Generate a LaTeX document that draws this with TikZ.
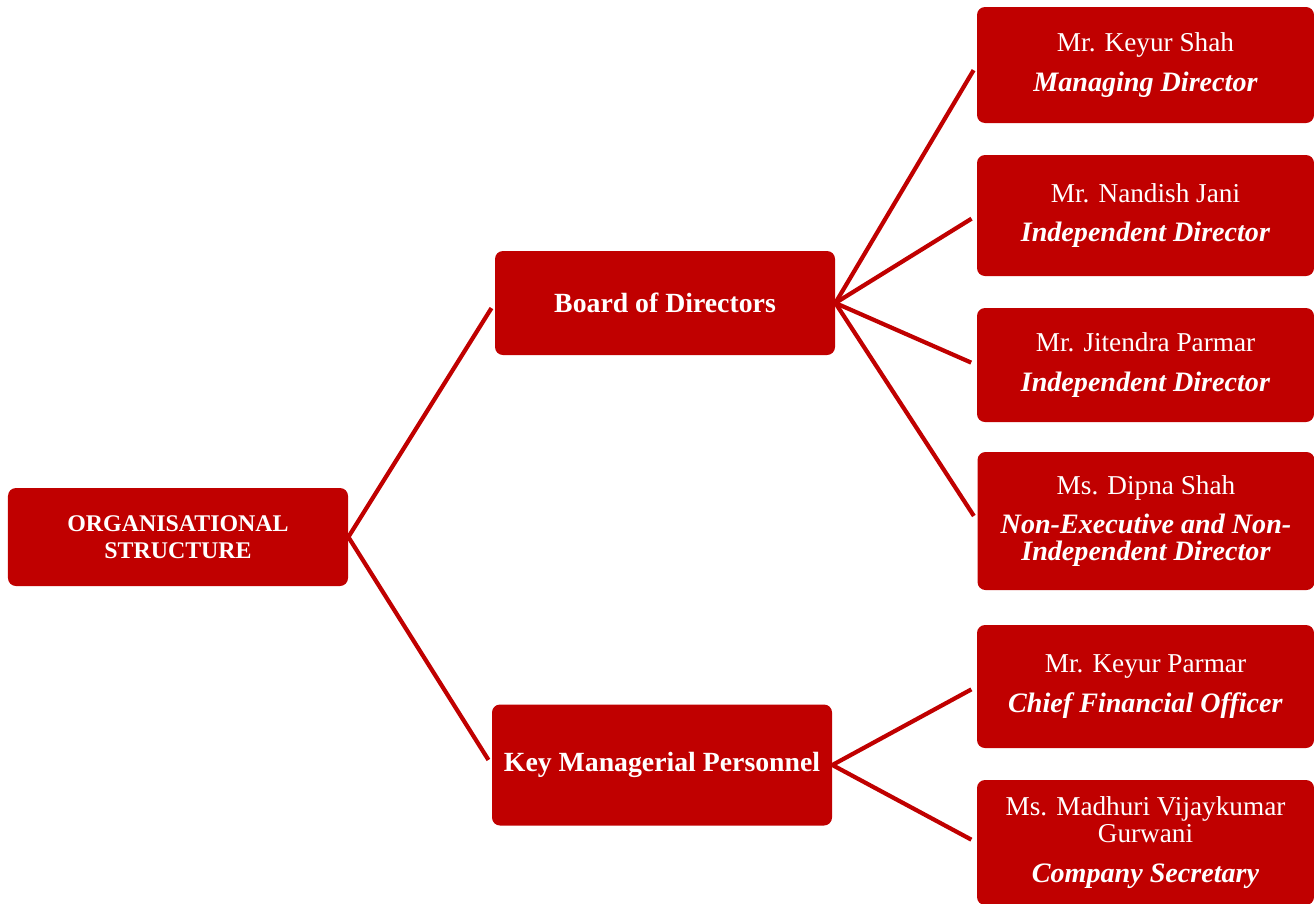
\documentclass[tikz,border=0pt]{standalone}
\usepackage{fontspec}
\setmainfont{Liberation Serif}
\usepackage{tikz}
\usetikzlibrary{positioning,shapes,arrows}

\definecolor{orgred}{RGB}{192,0,0}

\tikzset{
	orgbox/.style={fill=orgred,text=white,rounded corners=1.6mm,align=center,
		inner sep=0pt,minimum width=68mm,font=\fontsize{15.5}{15.5}\selectfont},
	personbox/.style={orgbox,minimum width=67.4mm},
	link/.style={draw=orgred,line width=2.4pt,shorten >=1.2mm}
}

\newcommand{\post}[1]{{\fontsize{16}{15.5}\selectfont\textbf{\textit{#1}}}}

\begin{document}
\begin{tikzpicture}[x=0.2mm,y=-0.2mm]
		\useasboundingbox (0,0) rectangle (1314,903);

		% Root
		\node[orgbox,minimum height=19.6mm,font=\bfseries\fontsize{13.6}{15.5}\selectfont] (org) at (178,537)
			{ORGANISATIONAL\\STRUCTURE};

		% Groups
		\node[orgbox,minimum height=20.8mm,font=\bfseries\fontsize{15.8}{15.5}\selectfont] (board) at (665,303) {Board of Directors};
		\node[orgbox,minimum height=24.2mm,font=\bfseries\fontsize{15.8}{15.5}\selectfont] (kmp) at (662,765) {Key Managerial Personnel};

		% Directors
		\node[personbox,minimum height=23.2mm] (keyur) at (1145.5,65)
			{Mr. Keyur Shah\\[7pt]\post{Managing Director}};
		\node[personbox,minimum height=24.2mm] (nandish) at (1145.5,215.5)
			{Mr. Nandish Jani\\[7pt]\post{Independent Director}};
		\node[personbox,minimum height=22.8mm] (jitendra) at (1145.5,365)
			{Mr. Jitendra Parmar\\[7pt]\post{Independent Director}};
		\node[personbox,minimum height=27.6mm] (dipna) at (1146,521)
			{Ms. Dipna Shah\\[7pt]\post{Non-Executive and Non-}\\\post{Independent Director}};

		% Key managerial personnel
		\node[personbox,minimum height=24.6mm] (parmar) at (1145.5,686.5)
			{Mr. Keyur Parmar\\[7pt]\post{Chief Financial Officer}};
		\node[personbox,minimum height=25mm] (madhuri) at (1145.5,842.5)
			{Ms. Madhuri Vijaykumar\\Gurwani\\[7pt]\post{Company Secretary}};

		% Links
		\draw[link] (org.east) -- (board.west);
		\draw[link] (org.east) -- (kmp.west);
		\foreach \d in {keyur,nandish,jitendra,dipna}
			\draw[link] (board.east) -- (\d.west);
		\foreach \d in {parmar,madhuri}
			\draw[link] (kmp.east) -- (\d.west);
	\end{tikzpicture}
\end{document}
